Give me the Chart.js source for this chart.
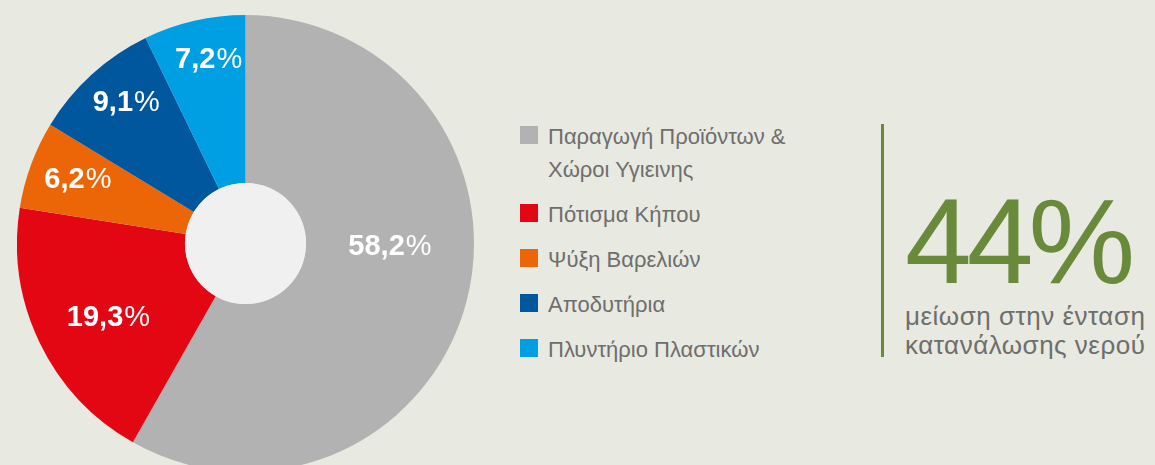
<!DOCTYPE html>
<html>
<head>
<meta charset="utf-8">
<script src="https://cdn.jsdelivr.net/npm/chart.js@4.4.1/dist/chart.umd.min.js"></script>
<style>
    body {
        margin: 0;
        width: 1155px;
        height: 465px;
        overflow: hidden;
        position: relative;
        background: #e8e9e0;
        font-family: "Liberation Sans", Arial, sans-serif;
    }
    #pieBox { position: absolute; left: 17px; top: 15px; width: 457px; height: 457px; }
    #legend { position: absolute; left: 520px; top: 120px; color: #6e6e6e; font-size: 22px; }
    .item { position: relative; padding-left: 28px; line-height: 33px; margin-bottom: 12px; white-space: nowrap; }
    .item span.box { position: absolute; left: 0; top: 6px; width: 18px; height: 18px; }
    #rule { position: absolute; left: 881px; top: 124px; width: 3px; height: 233px; background: #6a8a3b; }
    #big { position: absolute; left: 905px; top: 181px; font-size: 120px; line-height: 120px; color: #6a8a3b; letter-spacing: -5px; }
    #sub { position: absolute; left: 905px; top: 302px; font-size: 26px; line-height: 29px; color: #6e6e6e; white-space: nowrap; letter-spacing: 0.5px; }
</style>
</head>
<body>
<div id="pieBox"><canvas id="waterPie"></canvas></div>
<div id="legend"></div>
<div id="rule"></div>
<div id="big">44%</div>
<div id="sub">μείωση στην ένταση<br>κατανάλωσης νερού</div>

<script>
// categories (legend lines) and values in %
const categories = [
    ["Παραγωγή Προϊόντων &", "Χώροι Υγιεινης"],
    ["Πότισμα Κήπου"],
    ["Ψύξη Βαρελιών"],
    ["Αποδυτήρια"],
    ["Πλυντήριο Πλαστικών"]
];
const shares = [58.2, 19.3, 6.2, 9.1, 7.2];
const sliceColors = ["#b2b2b2", "#e30613", "#ec6608", "#00579d", "#009fe3"];

// build the legend from the same arrays
const legendEl = document.getElementById("legend");
categories.forEach(function (lines, i) {
    const item = document.createElement("div");
    item.className = "item";
    item.innerHTML = '<span class="box" style="background:' + sliceColors[i] + '"></span>' + lines.join("<br>");
    legendEl.appendChild(item);
});

// light grey disc in the doughnut hole
const holeFill = {
    id: "holeFill",
    afterDatasetsDraw(chart) {
        const arc = chart.getDatasetMeta(0).data[0];
        const ctx = chart.ctx;
        ctx.save();
        ctx.beginPath();
        ctx.arc(arc.x, arc.y, arc.innerRadius, 0, Math.PI * 2);
        ctx.fillStyle = "#f0f0f0";
        ctx.fill();
        ctx.restore();
    }
};

// percentage labels: bold number, regular % sign
const sliceLabels = {
    id: "sliceLabels",
    afterDatasetsDraw(chart, args, opts) {
        const ctx = chart.ctx;
        const values = chart.data.datasets[0].data;
        const size = opts.size;
        chart.getDatasetMeta(0).data.forEach(function (arc, i) {
            const mid = (arc.startAngle + arc.endAngle) / 2 + opts.angleShift[i] * Math.PI / 180;
            const r = arc.outerRadius * opts.radius[i];
            const x = arc.x + Math.cos(mid) * r;
            const y = arc.y + Math.sin(mid) * r;
            const num = values[i].toFixed(1).replace(".", ",");
            ctx.save();
            ctx.fillStyle = "#ffffff";
            ctx.textBaseline = "alphabetic";
            ctx.font = "bold " + size + "px 'Liberation Sans', Arial, sans-serif";
            const w1 = ctx.measureText(num).width;
            ctx.font = size + "px 'Liberation Sans', Arial, sans-serif";
            const w2 = ctx.measureText("%").width;
            const x0 = x - (w1 + w2) / 2;
            const base = y + size * 0.36;
            ctx.font = "bold " + size + "px 'Liberation Sans', Arial, sans-serif";
            ctx.fillText(num, x0, base);
            ctx.font = size + "px 'Liberation Sans', Arial, sans-serif";
            ctx.fillText("%", x0 + w1 + 1, base);
            ctx.restore();
        });
    }
};

const ctx = document.getElementById("waterPie").getContext("2d");
new Chart(ctx, {
    type: "doughnut",
    data: {
        labels: categories.map(l => l.join(" ")),
        datasets: [{
            data: shares,
            backgroundColor: sliceColors,
            borderWidth: 0,
        }],
    },
    options: {
        responsive: true,
        maintainAspectRatio: false,
        animation: false,
        cutout: "26.5%",
        layout: { padding: 0 },
        plugins: {
            legend: { display: false },
            tooltip: { enabled: false },
            sliceLabels: {
                size: 29,
                angleShift: [-14.2, -2, 1.2, 2.3, 1.6],
                radius: [0.63, 0.68, 0.79, 0.815, 0.83],
            },
        },
    },
    plugins: [holeFill, sliceLabels],
});
</script>
</body>
</html>
